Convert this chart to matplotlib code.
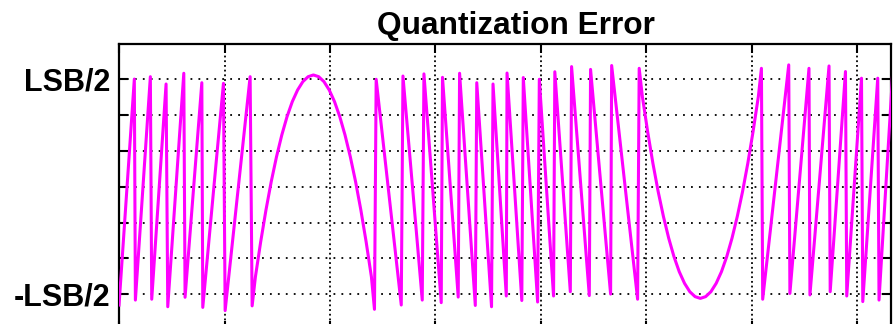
import matplotlib
matplotlib.use("Agg")
import matplotlib.pyplot as plt
import numpy as np

# error samples, x in grid divisions, y in LSB
# first run: signal rising, error ramps up then snaps down
saw1_x = [0.00, 0.145, 0.155, 0.297, 0.310, 0.446, 0.462, 0.614, 0.626,
          0.785, 0.794, 0.990, 1.006, 1.243, 1.262]
saw1_y = [-0.550, 0.502, -0.527, 0.513, -0.523, 0.479, -0.558, 0.529, -0.514,
          0.485, -0.561, 0.482, -0.576, 0.513, -0.554]

# top of the sine, error follows the signal itself
arc1_x = [1.293, 1.343, 1.393, 1.443, 1.493, 1.543, 1.593, 1.643, 1.693,
          1.743, 1.793, 1.843, 1.893, 1.943, 1.993, 2.043, 2.093, 2.143,
          2.193, 2.243, 2.293, 2.343, 2.393, 2.422]
arc1_y = [-0.419, -0.256, -0.108, 0.024, 0.140, 0.241, 0.327, 0.397, 0.451,
          0.490, 0.513, 0.521, 0.513, 0.490, 0.451, 0.397, 0.327, 0.241,
          0.140, 0.024, -0.108, -0.256, -0.419, -0.570]

# signal falling, error snaps up then ramps down
saw2_x = [2.438, 2.676, 2.692, 2.875, 2.891, 3.055, 3.067, 3.216, 3.229,
          3.378, 3.392, 3.532, 3.546, 3.672, 3.679, 3.819, 3.833, 3.969,
          3.985, 4.120, 4.132, 4.279, 4.291, 4.459, 4.471, 4.661, 4.671,
          4.917, 4.932]
saw2_y = [0.501, -0.550, 0.516, -0.527, 0.526, -0.539, 0.510, -0.513, 0.529,
          -0.552, 0.485, -0.558, 0.479, -0.508, 0.530, -0.529, 0.509, -0.536,
          0.501, -0.508, 0.536, -0.488, 0.560, -0.506, 0.547, -0.499, 0.565,
          -0.523, 0.552]

# bottom of the sine
arc2_x = [4.962, 5.012, 5.062, 5.112, 5.162, 5.212, 5.262, 5.312, 5.362,
          5.412, 5.462, 5.512, 5.562, 5.612, 5.662, 5.712, 5.762, 5.812,
          5.862, 5.912, 5.962, 6.012, 6.062, 6.091]
arc2_y = [0.421, 0.258, 0.110, -0.022, -0.138, -0.239, -0.325, -0.395, -0.449,
          -0.488, -0.511, -0.519, -0.511, -0.488, -0.449, -0.395, -0.325, -0.239,
          -0.138, -0.022, 0.110, 0.258, 0.421, 0.552]

saw3_x = [6.103, 6.350, 6.361, 6.542, 6.551, 6.732, 6.743, 6.888, 6.900,
          7.040, 7.052, 7.194, 7.206, 7.336]
saw3_y = [-0.523, 0.568, -0.496, 0.552, -0.503, 0.563, -0.488, 0.537, -0.508,
          0.506, -0.534, 0.506, -0.527, 0.535]

ytick_vals = [-0.5, -1/3, -1/6, 0, 1/6, 1/3, 0.5]
ytick_text = ["-LSB/2", "", "", "", "", "", "LSB/2"]
xtick_vals = [0, 1, 2, 3, 4, 5, 6, 7]

plt.rcParams['font.family'] = ['Liberation Sans', 'DejaVu Sans']

t = np.concatenate([saw1_x, arc1_x, saw2_x, arc2_x, saw3_x])
err = np.concatenate([saw1_y, arc1_y, saw2_y, arc2_y, saw3_y])

fig = plt.figure(figsize=(8.93, 3.24), dpi=100)
ax = fig.add_axes([0.1333, -0.0188, 0.8645, 0.884])

ax.plot(t, err, color="#ff00ff", lw=2.2, zorder=3)

ax.set_xlim(0, 7.32)
ax.set_ylim(-2/3, 2/3)
ax.set_xticks(xtick_vals)
ax.set_xticklabels([])
ax.set_yticks(ytick_vals)
ax.set_yticklabels(ytick_text, fontsize=22, fontweight="bold")

ax.tick_params(direction="in", length=6.5, width=1.5, top=True, right=True,
               pad=6, color="black")
ax.yaxis.grid(True, linestyle=(0, (1, 3.4)), lw=1.3, color="black")
ax.xaxis.grid(True, linestyle=(0, (1, 1.6)), lw=1.3, color="black")
ax.set_axisbelow(True)

for s in ax.spines.values():
    s.set_linewidth(1.6)
    s.set_color("black")

ax.set_title("Quantization Error", fontsize=22.8, fontweight="bold", x=0.514, pad=7)

fig.savefig("out.png", dpi=100)
